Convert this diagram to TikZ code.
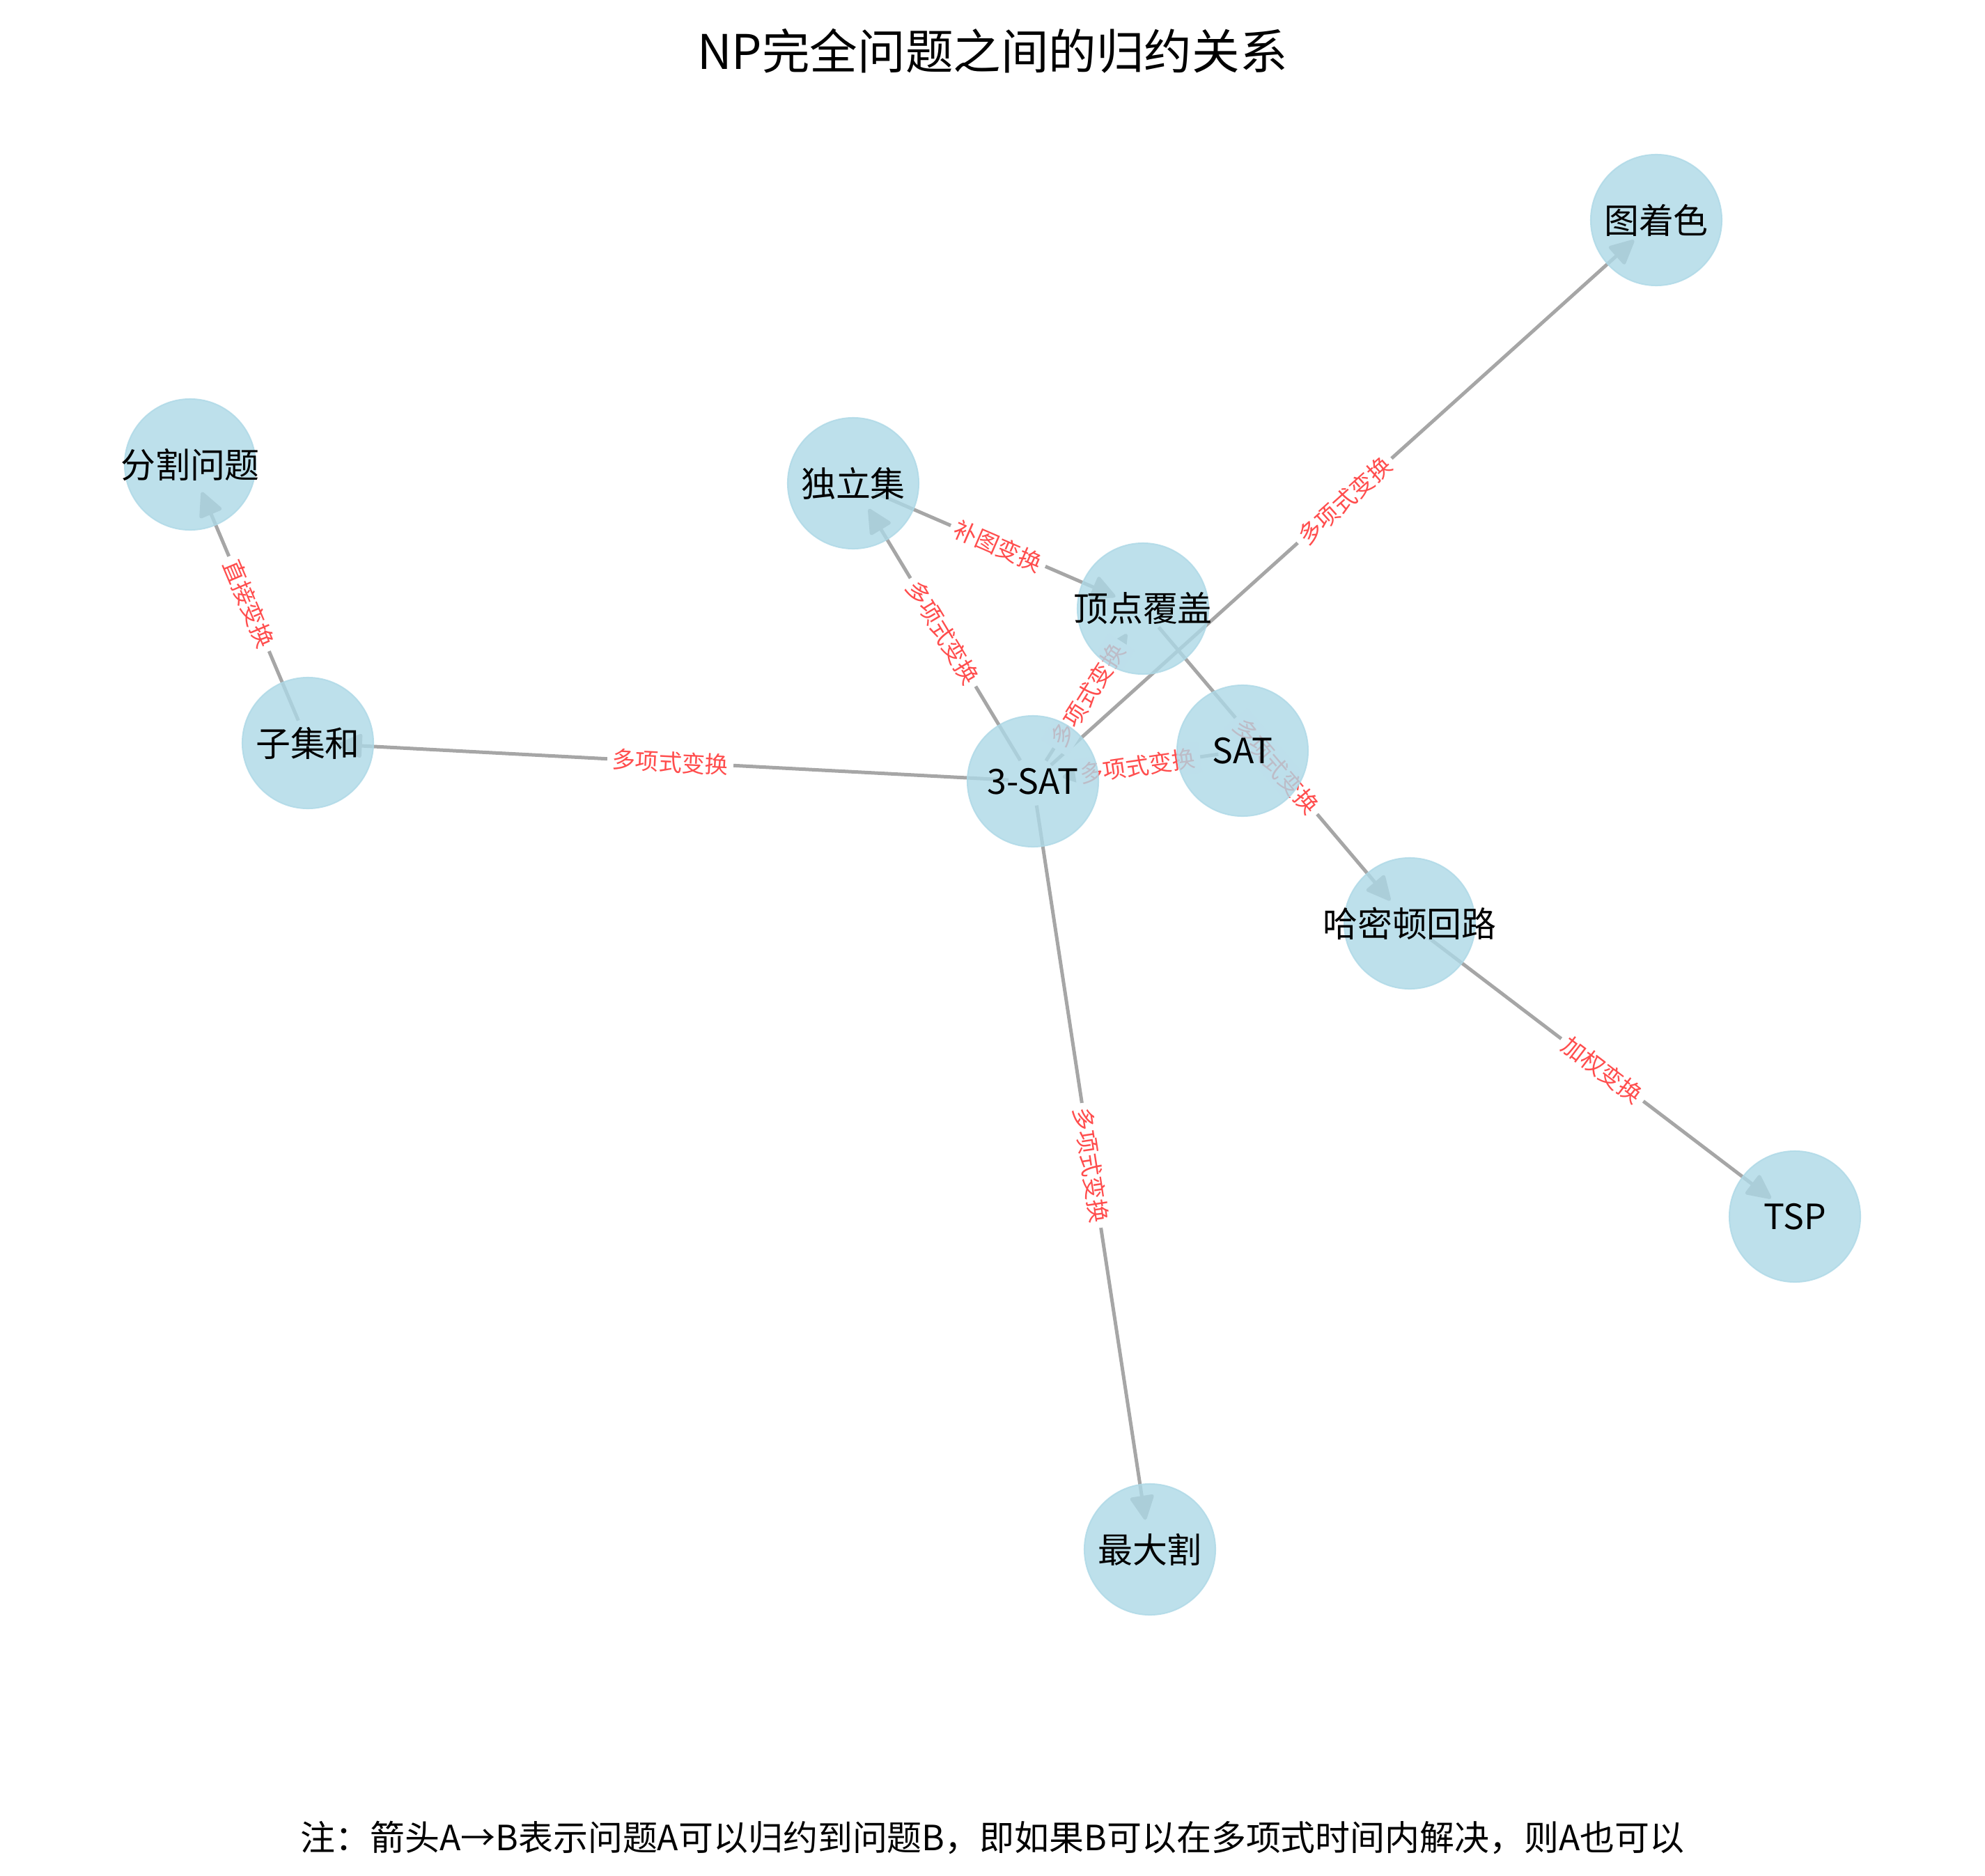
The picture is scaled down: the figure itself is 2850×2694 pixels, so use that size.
\documentclass[tikz,border=0pt]{standalone}
\usepackage{fontspec}
\setmainfont{Noto Sans CJK SC}
\usetikzlibrary{arrows.meta}
\definecolor{nodeblue}{HTML}{ADD8E6}
\definecolor{edgegray}{RGB}{166,166,166}
\definecolor{labelred}{RGB}{255,77,77}
\pgfdeclarelayer{edgelayer}
\pgfdeclarelayer{labellayer}
\pgfsetlayers{edgelayer,labellayer,main}
\begin{document}
\begin{tikzpicture}[x=0.01cm,y=-0.01cm,
  prob/.style={circle, minimum size=1.88cm, inner sep=0pt, fill=nodeblue, fill opacity=0.8,
    draw=nodeblue, draw opacity=0.8, line width=0.02cm,
    label={[text opacity=1, fill opacity=1, inner sep=0pt, font=\fontsize{14.2}{16}\selectfont]center:#1}},
  reduce/.style={draw=edgegray, line width=0.05cm,
    -{Triangle[length=0.38cm,width=0.36cm,round]}, shorten <=0.35cm, shorten >=0.43cm},
  elabel/.style={midway, sloped, fill=white, text=labelred, inner sep=2pt,
    font=\fontsize{9.5}{11}\selectfont}
]
\useasboundingbox (0,0) rectangle (2850,2694);

% title and note
\node (title) at (1425,73) {\fontsize{19.5}{22}\selectfont NP完全问题之间的归约关系};
\node (note) at (1425,2639) {\fontsize{14.2}{16}\selectfont 注：箭头A→B表示问题A可以归约到问题B，即如果B可以在多项式时间内解决，则A也可以};

% nodes
\node[prob={图着色}] (color)  at (2378,316)  {};
\node[prob={分割问题}] (part)   at (273,667)   {};
\node[prob={独立集}] (indep)  at (1225,694)  {};
\node[prob={顶点覆盖}] (vc)     at (1641,874)  {};
\node[prob={子集和}] (subset) at (442,1067)  {};
\node[prob={3-SAT}] (tsat)   at (1483,1122) {};
\node[prob={SAT}] (sat)    at (1784,1078) {};
\node[prob={哈密顿回路}] (ham)    at (2024,1326) {};
\node[prob={TSP}] (tsp)    at (2577,1747) {};
\node[prob={最大割}] (maxcut) at (1651,2225) {};

% edges
\begin{pgfonlayer}{edgelayer}
\draw[reduce] (tsat.center) -- (subset.center);
\draw[reduce] (subset.center) -- (part.center);
\draw[reduce] (tsat.center) -- (indep.center);
\draw[reduce] (indep.center) -- (vc.center);
\draw[reduce] (tsat.center) -- (vc.center);
\draw[reduce] (tsat.center) -- (color.center);
\draw[reduce] (sat.center) -- (tsat.center);
\draw[reduce] (vc.center) -- (ham.center);
\draw[reduce] (ham.center) -- (tsp.center);
\draw[reduce] (tsat.center) -- (maxcut.center);
\end{pgfonlayer}

% edge labels
\begin{pgfonlayer}{labellayer}
\path (tsat.center) -- (subset.center) node[elabel] (l1) {多项式变换};
\path (subset.center) -- (part.center) node[elabel] (l2) {直接变换};
\path (tsat.center) -- (indep.center) node[elabel] (l3) {多项式变换};
\path (indep.center) -- (vc.center) node[elabel] (l4) {补图变换};
\path (tsat.center) -- (vc.center) node[elabel] (l5) {多项式变换};
\path (tsat.center) -- (color.center) node[elabel] (l6) {多项式变换};
\path (sat.center) -- (tsat.center) node[elabel] (l7) {多项式变换};
\path (vc.center) -- (ham.center) node[elabel] (l8) {多项式变换};
\path (ham.center) -- (tsp.center) node[elabel] (l9) {加权变换};
\path (tsat.center) -- (maxcut.center) node[elabel] (l10) {多项式变换};
\end{pgfonlayer}
\end{tikzpicture}
\end{document}
